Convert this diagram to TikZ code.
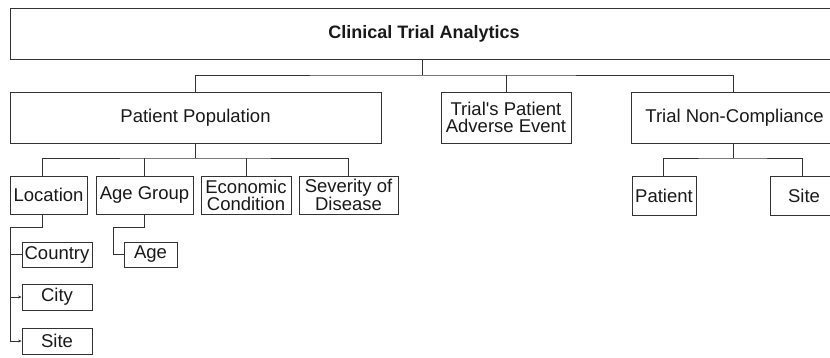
\documentclass[tikz,border=0pt]{standalone}
\usepackage{fontspec}
\setmainfont{Liberation Sans}
\usetikzlibrary{arrows.meta}
\tikzset{
  box/.style={draw=black!80, line width=0.8pt, inner sep=0pt, align=center, text=black!90,
    font=\fontsize{18.5}{17}\selectfont},
  link/.style={draw=black!80, line width=0.8pt},
  tip/.style={link, -{Stealth[length=3.5pt,width=3pt]}}
}
\begin{document}
\begin{tikzpicture}[x=1pt,y=-1pt]
\useasboundingbox (0,0) rectangle (830,357);
\clip (0,0) rectangle (830,357);
% level 0
\node[box, minimum width=828, minimum height=51, font=\fontsize{18}{20}\selectfont\bfseries] (top) at (424,33.5) {Clinical Trial Analytics};
% level 1
\node[box, minimum width=371, minimum height=51] (pp) at (195.5,117.5) {Patient Population};
\node[box, minimum width=130, minimum height=51] (ae) at (506,117.5) {Trial\textquotesingle s Patient\\Adverse Event};
\node[box, minimum width=207, minimum height=51] (tnc) at (734.5,117.5) {Trial Non-Compliance};
% level 2
\node[box, minimum width=77, minimum height=38] (loc) at (48.5,195) {Location};
\node[box, minimum width=97, minimum height=38] (ag) at (144.5,195) {Age Group};
\node[box, minimum width=90, minimum height=38] (ec) at (246,195) {Economic\\Condition};
\node[box, minimum width=99, minimum height=38] (sev) at (348.5,195) {Severity of\\Disease};
\node[box, minimum width=64, minimum height=39] (pat) at (664,195.5) {Patient};
\node[box, minimum width=68, minimum height=39] (site2) at (804,195.5) {Site};
% level 3
\node[box, minimum width=70, minimum height=25] (country) at (57,254.5) {Country};
\node[box, minimum width=70, minimum height=26] (city) at (57,297) {City};
\node[box, minimum width=70, minimum height=26] (site) at (57,341) {Site};
\node[box, minimum width=53, minimum height=25] (age) at (150.5,254.5) {Age};
% junctions
\coordinate (j0) at (422,75);
\coordinate (j1) at (195,158);
\coordinate (j2) at (733,158);
\coordinate (lt) at (10,227);
\coordinate (at) at (113,227);
% connectors level 0 -> 1
\draw[link] (top.south -| j0) -- (j0);
\draw[link] (pp.north -| j1) |- (j0) -| (tnc.north -| j2);
\draw[link] (ae.north) -- (ae.north |- j0);
% level 1 -> 2
\draw[link] (pp.south -| j1) -- (j1);
\draw[link] ([xshift=-6.5pt]loc.north) |- (j1) -| (sev.north);
\draw[link] (ag.north) -- (ag.north |- j1);
\draw[link] (ec.north) -- (ec.north |- j1);
\draw[link] (tnc.south -| j2) -- (j2);
\draw[link] ([xshift=-1pt]pat.north) |- (j2) -| ([xshift=-2pt]site2.north);
% level 2 -> 3
\draw[tip] ([xshift=-6.5pt]loc.south) |- (lt) |- (site.west);
\draw[tip] (lt |- city.west) -- (city.west);
\draw[link] (lt |- country.west) -- (country.west);
\draw[link] ([xshift=-0.5pt]ag.south) |- (at) |- (age.west);
\end{tikzpicture}
\end{document}
